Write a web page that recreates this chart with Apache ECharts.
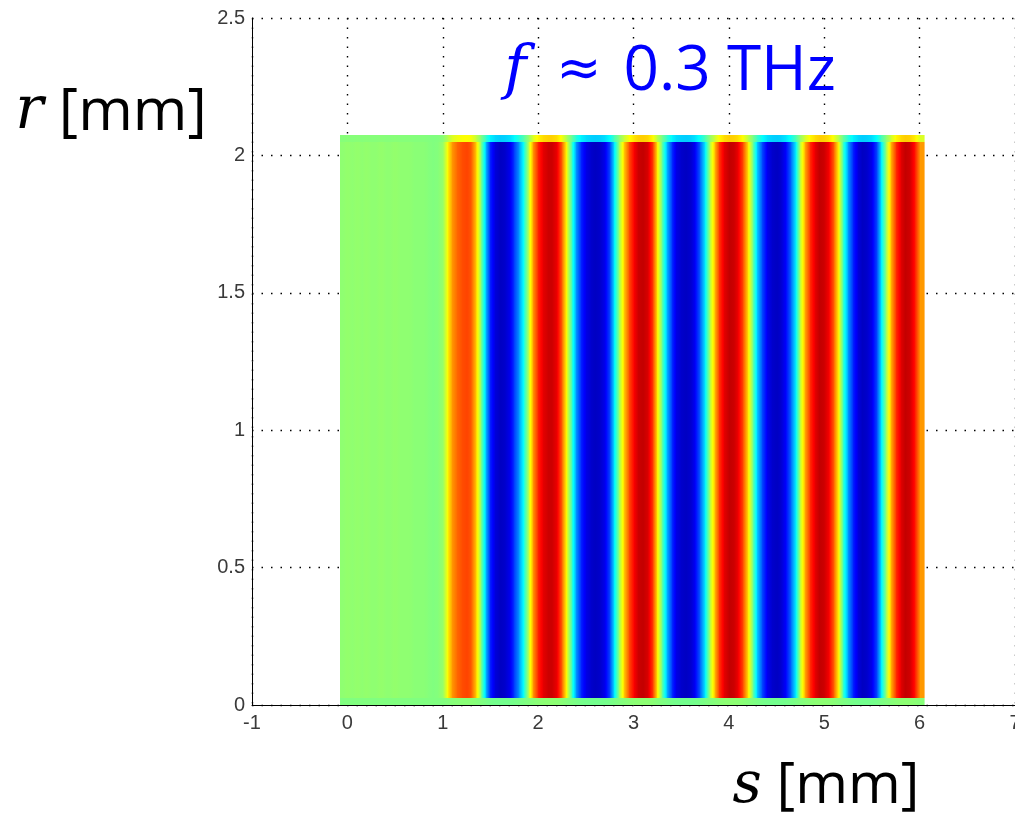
<!DOCTYPE html>
<html><head><meta charset="utf-8">
<script src="https://cdn.jsdelivr.net/npm/echarts@6/dist/echarts.min.js"></script>
<style>html,body{margin:0;padding:0;background:#fff}#c{width:1015px;height:814px}</style>
</head><body><div id="c"></div>
<script>
// Axis ticks
const xTicks = [-1, 0, 1, 2, 3, 4, 5, 6, 7];
const yTicks = [0, 0.5, 1, 1.5, 2, 2.5];
// Field sampled along s (mm): samples start at sStart with spacing sStep
const sStart = -0.05, sStep = 0.05;
const sEdgeLeft = -0.08, sEdgeRight = 6.05;
const fieldValues = [
  0.03,0.04,0.03,0.04,0.03,0.04,0.03,0.03,0.04,0.03,0.03,0.04,0.03,0.03,0.03,0.02,0.02,0.02,0.01,0.00,0.01,
  0.05,0.28,0.45,0.55,0.60,0.62,0.58,0.35,0.00,-0.40,-0.68,-0.82,-0.87,-0.85,-0.78,-0.64,-0.45,-0.20,0.15,0.45,
  0.68,0.80,0.85,0.85,0.78,0.55,0.20,-0.15,-0.45,-0.68,-0.80,-0.85,-0.87,-0.85,-0.78,-0.60,-0.30,0.05,0.35,0.60,
  0.76,0.85,0.87,0.82,0.62,0.30,-0.05,-0.40,-0.66,-0.80,-0.85,-0.87,-0.84,-0.76,-0.56,-0.28,0.10,0.40,0.64,0.80,
  0.87,0.85,0.78,0.60,0.30,-0.05,-0.35,-0.60,-0.78,-0.85,-0.87,-0.84,-0.74,-0.54,-0.25,0.10,0.42,0.66,0.80,0.87,
  0.85,0.76,0.55,0.22,-0.12,-0.45,-0.68,-0.82,-0.87,-0.85,-0.78,-0.60,-0.30,0.05,0.40,0.66,0.81,0.87,0.84,0.70,
  0.45
];
// Bands along r (mm) and the relative field strength in each
const rBandEdges = [0, 0.025, 2.05, 2.073];
const rBandGain = [0.03, 1, 0.4];

// Build cells: each spans between two neighbouring samples
const cells = [];
const n = fieldValues.length;
const sAt = i => sStart + i * sStep;
for (let j = 0; j < rBandGain.length; j++) {
  const g = rBandGain[j], r0 = rBandEdges[j], r1 = rBandEdges[j + 1];
  cells.push([sEdgeLeft, sAt(0), r0, r1, fieldValues[0] * g, fieldValues[0] * g]);
  for (let i = 0; i < n - 1; i++) {
    cells.push([sAt(i), sAt(i + 1), r0, r1, fieldValues[i] * g, fieldValues[i + 1] * g]);
  }
  cells.push([sAt(n - 1), sEdgeRight, r0, r1, fieldValues[n - 1] * g, fieldValues[n - 1] * g]);
}

// jet colormap on [-1, 1]
const jetStops = [[0,0,128],[0,0,255],[0,128,255],[0,255,255],[128,255,128],[255,255,0],[255,128,0],[255,0,0],[128,0,0]];
function jet(v) {
  let t = (Math.max(-1, Math.min(1, v)) + 1) / 2 * (jetStops.length - 1);
  const k = Math.min(jetStops.length - 2, Math.floor(t));
  const f = t - k, a = jetStops[k], b = jetStops[k + 1];
  return 'rgb(' + a.map((c, m) => Math.round(c + (b[m] - c) * f)).join(',') + ')';
}

const chart = echarts.init(document.getElementById('c'), null, {renderer: 'canvas'});
const labelFont = {fontFamily: 'Liberation Sans', fontSize: 20, color: '#3a3a3a'};
const dotted = {color: '#000', width: 1.4, type: [1.5, 8]};
chart.setOption({
  animation: false,
  backgroundColor: '#fff',
  grid: {left: 252, top: 18, width: 763, height: 687, containLabel: false, outerBoundsMode: 'none'},
  xAxis: {
    type: 'value', min: xTicks[0], max: xTicks[xTicks.length - 1], interval: 1,
    axisLine: {show: true, onZero: false, lineStyle: {color: '#000', width: 1}},
    axisTick: {show: false},
    axisLabel: Object.assign({margin: 8, showMaxLabel: true, showMinLabel: true}, labelFont),
    splitLine: {show: true, lineStyle: dotted}
  },
  yAxis: {
    type: 'value', min: yTicks[0], max: yTicks[yTicks.length - 1], interval: 0.5,
    axisLine: {show: true, onZero: false, lineStyle: {color: '#000', width: 1}},
    axisTick: {show: false},
    axisLabel: Object.assign({margin: 7, showMaxLabel: true, showMinLabel: true}, labelFont),
    splitLine: {show: true, lineStyle: dotted}
  },
  series: [{
    type: 'custom',
    data: cells,
    encode: {x: [0, 1], y: [2, 3]},
    renderItem: function (params, api) {
      const p0 = api.coord([api.value(0), api.value(3)]);
      const p1 = api.coord([api.value(1), api.value(2)]);
      const x0 = Math.round(p0[0]), x1 = Math.round(p1[0]);
      const y0 = Math.round(p0[1]), y1 = Math.round(p1[1]);
      const va = api.value(4), vb = api.value(5);
      const stops = [];
      for (let q = 0; q <= 6; q++) stops.push({offset: q / 6, color: jet(va + (vb - va) * q / 6)});
      return {type: 'rect', shape: {x: x0, y: y0, width: x1 - x0 + 0.6, height: y1 - y0},
        style: {fill: new echarts.graphic.LinearGradient(0, 0, 1, 0, stops)}};
    }
  }],
  graphic: [
    {type: 'text', x: 670, y: 72, z: 100, style: {
      text: '{i|f}{s|≈}{n|0.3 THz}', fill: '#0000ff', align: 'center', verticalAlign: 'middle',
      rich: {
        i: {fontFamily: 'DejaVu Serif', fontStyle: 'italic', fontSize: 60, fill: '#0000ff'},
        s: {fontFamily: 'DejaVu Sans', fontSize: 54, fill: '#0000ff', padding: [0, 22, 0, 30]},
        n: {fontFamily: 'Open Sans', fontSize: 62, fill: '#0000ff'}
      }
    }},
    {type: 'text', x: 111, y: 113, z: 100, style: {
      text: '{i|r} [mm]', fill: '#000', align: 'center', verticalAlign: 'middle',
      font: '59px "Open Sans"',
      rich: {i: {fontFamily: 'DejaVu Serif', fontStyle: 'italic', fontSize: 59, fill: '#000'}}
    }},
    {type: 'text', x: 826, y: 787, z: 100, style: {
      text: '{i|s} [mm]', fill: '#000', align: 'center', verticalAlign: 'middle',
      font: '57px "Open Sans"',
      rich: {i: {fontFamily: 'DejaVu Serif', fontStyle: 'italic', fontSize: 57, fill: '#000'}}
    }}
  ]
});
</script>
</body></html>
